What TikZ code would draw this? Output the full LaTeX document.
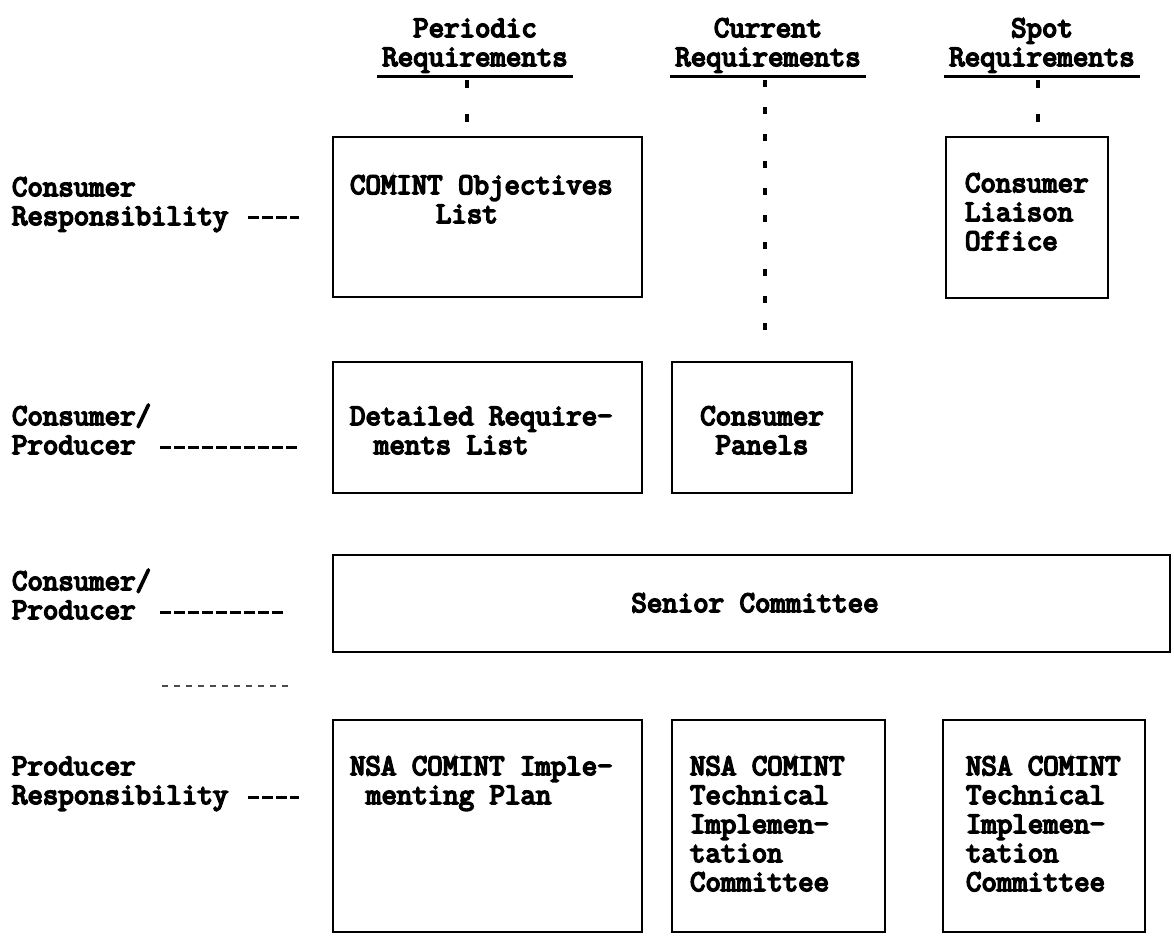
\documentclass[tikz,border=0pt]{standalone}
\usepackage{fontspec}
\newfontfamily\twfont{Latin Modern Mono}[FakeBold=5.5]
\newcommand{\twl}[1]{\begin{tabular}[t]{@{}l@{}}#1\end{tabular}}
\newcommand{\twc}[1]{\begin{tabular}[t]{@{}c@{}}#1\end{tabular}}
\newcommand{\twh}[1]{\begin{tabular}[b]{@{}c@{}}#1\end{tabular}}
\begin{document}
\begin{tikzpicture}[x=1pt,y=-1pt,
  every node/.style={inner sep=0pt, outer sep=0pt},
  tw/.style={font=\fontsize{30}{29}\selectfont\twfont, anchor=base west},
  twmid/.style={font=\fontsize{30}{29}\selectfont\twfont, anchor=base},
  box/.style={draw, line width=2.8pt, anchor=north west},
  uline/.style={line width=3pt},
  dotsA/.style={line width=3.2pt, dash pattern=on 8pt off 26pt},
  dotsB/.style={line width=3.2pt, dash pattern=on 7pt off 20pt},
  leader/.style={line width=3pt, dash pattern=on 11pt off 3pt},
  stray/.style={line width=1.6pt, dash pattern=on 6pt off 6pt, black!70},
]
\useasboundingbox (0,0) rectangle (1174,935);

% boxes
\node[box, minimum width=309pt, minimum height=160pt] (b1) at (333,137) {};
\node[box, minimum width=162pt, minimum height=161pt] (b2) at (946,137) {};
\node[box, minimum width=309pt, minimum height=131pt] (b3) at (333,362) {};
\node[box, minimum width=180pt, minimum height=131pt] (b4) at (672,362) {};
\node[box, minimum width=837pt, minimum height=97pt]  (b5) at (333,555) {};
\node[box, minimum width=309pt, minimum height=212pt] (b6) at (333,720) {};
\node[box, minimum width=213pt, minimum height=212pt] (b7) at (672,720) {};
\node[box, minimum width=202pt, minimum height=212pt] (b8) at (943,720) {};

% headers
\node[twmid] (hp) at (475,66) {\twh{Periodic\\Requirements}};
\node[twmid] (hc) at (768,66) {\twh{Current\\Requirements}};
\node[twmid] (hs) at (1042,66) {\twh{Spot\\Requirements}};
\draw[uline] ([shift={(-5,10)}]hp.base west) -- ([shift={(5,10)}]hp.base east);
\draw[uline] ([shift={(-5,10)}]hc.base west) -- ([shift={(5,10)}]hc.base east);
\draw[uline] ([shift={(-5,10)}]hs.base west) -- ([shift={(5,10)}]hs.base east);
\coordinate (hpu) at ([shift={(-8,14)}]hp.base);
\coordinate (hcu) at ([shift={(-3,14)}]hc.base);
\coordinate (hsu) at ([shift={(-4,14)}]hs.base);
\draw[dotsA] (hpu) -- (hpu |- b1.north);
\draw[dotsB, shorten >=17pt] (hcu) -- (hcu |- b4.north);
\draw[dotsA] (hsu) -- (hsu |- b2.north);

% texts in boxes
\node[tw] (t1) at (350,194) {\twl{COMINT Objectives\\\hspace*{86pt}List}};
\node[tw] (t2) at (965,192) {\twl{Consumer\\Liaison\\Office}};
\node[tw] (t3) at (350,425) {\twl{Detailed Require-\\\hspace*{24pt}ments List}};
\node[twmid] (t4) at (762,425) {\twc{Consumer\\Panels}};
\node[twmid] (t5) at (755,612) {Senior Committee};
\node[tw] (t6) at (350,775) {\twl{NSA COMINT Imple-\\\hspace*{16pt}menting Plan}};
\node[tw] (t7) at (690,775) {\twl{NSA COMINT\\Technical\\Implemen-\\tation\\Committee}};
\node[tw] (t8) at (966,775) {\twl{NSA COMINT\\Technical\\Implemen-\\tation\\Committee}};

% left labels
\node[tw] (l1) at (12,196) {\twl{Consumer\\Responsibility}};
\node[tw] (l2) at (12,425) {\twl{Consumer/\\Producer}};
\node[tw] (l3) at (12,590) {\twl{Consumer/\\Producer}};
\node[tw] (l4) at (12,775) {\twl{Producer\\Responsibility}};

\coordinate (c1) at (248,217);
\coordinate (c2) at (160,447);
\coordinate (c3) at (160,612);
\coordinate (c4) at (248,797);
\draw[leader] (c1) -- ([xshift=-34pt]c1 -| b1.west);
\draw[leader] (c2) -- ([xshift=-36pt]c2 -| b3.west);
\draw[leader] (c3) -- ([xshift=-47pt]c3 -| b5.west);
\draw[leader] (c4) -- ([xshift=-34pt]c4 -| b6.west);

\coordinate (s1) at (162,686);
\coordinate (s2) at (290,686);
\draw[stray] (s1) -- (s2);
\end{tikzpicture}
\end{document}
